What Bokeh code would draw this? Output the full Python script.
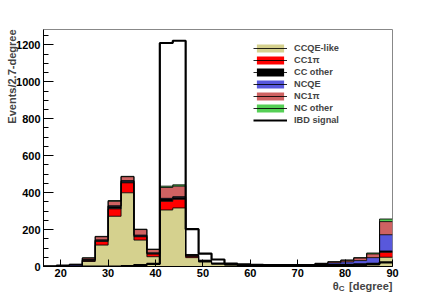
import numpy as np
from bokeh.plotting import figure
from bokeh.models import Range1d, Legend, LegendItem, Label, FixedTicker
from bokeh.embed import file_html
from bokeh.resources import INLINE

# ---- data ----
bin_edges = [16.36, 19.09, 21.82, 24.55, 27.27, 30.00, 32.73, 35.45, 38.18, 40.91,
             43.64, 46.36, 49.09, 51.82, 54.55, 57.27, 60.00, 62.73, 65.45, 68.18,
             70.91, 73.64, 76.36, 79.09, 81.82, 84.55, 87.27, 90.00]

ccqe_like = [0, 0, 1, 27, 116, 272, 399, 143, 53, 306, 317, 48, 24, 13, 8, 5, 4, 3, 2, 2, 2, 2, 3, 4, 5, 8, 50]
cc1pi     = [0, 0, 0, 5, 20, 40, 54, 18, 14, 47, 47, 7, 3, 1, 1, 1, 0, 0, 0, 0, 1, 1, 1, 2, 3, 5, 27]
cc_other  = [0, 0, 0, 4, 6, 14, 9, 6, 5, 13, 11, 3, 2, 1, 1, 0, 0, 0, 0, 0, 0, 1, 1, 1, 2, 3, 7]
ncqe      = [2, 6, 9, 2, 2, 3, 3, 3, 2, 3, 3, 1, 1, 1, 1, 1, 1, 1, 2, 3, 5, 10, 14, 18, 22, 32, 88]
nc1pi     = [0, 1, 2, 8, 17, 24, 21, 30, 18, 59, 57, 5, 3, 2, 1, 1, 1, 1, 1, 1, 2, 3, 6, 9, 14, 20, 71]
nc_other  = [0, 0, 0, 1, 2, 4, 2, 2, 2, 7, 7, 1, 1, 0, 0, 0, 0, 0, 0, 0, 0, 0, 1, 1, 2, 5, 14]
ibd_signal = [0, 0, 0, 0, 0, 0, 2, 8, 14, 1210, 1222, 202, 70, 38, 16, 12, 9, 8, 7, 7, 7, 7, 8, 9, 11, 14, 22]

layer_names = ["CCQE-like", "CC1\u03c0", "CC other", "NCQE", "NC1\u03c0", "NC other"]
layer_values = [ccqe_like, cc1pi, cc_other, ncqe, nc1pi, nc_other]
layer_colors = ["#d5d18e", "#ff0000", "#000000", "#5858dc", "#cf6262", "#55cf55"]

y_ticks = [0, 200, 400, 600, 800, 1000, 1200]
x_ticks = [20, 30, 40, 50, 60, 70, 80, 90]

FONT = "Liberation Sans"

p = figure(width=430, height=295, output_backend="svg", toolbar_location=None,
           x_range=Range1d(16.3636, 90.0), y_range=Range1d(0, 1283),
           min_border_left=43, min_border_right=38, min_border_top=29, min_border_bottom=29)
p.xgrid.visible = False
p.ygrid.visible = False
p.outline_line_color = "#888888"
p.outline_line_width = 1
p.background_fill_color = "white"
p.border_fill_color = "white"

edges = np.array(bin_edges)
cum = np.zeros(len(ccqe_like))
items = []
for name, vals, col in zip(layer_names, layer_values, layer_colors):
    lower = cum.copy()
    cum = cum + np.array(vals, dtype=float)
    lo_ext = np.append(lower, lower[-1])
    up_ext = np.append(cum, cum[-1])
    ar = p.varea_step(x=edges, y1=lo_ext, y2=up_ext, step_mode="after", fill_color=col)
    items.append((name, ar, up_ext))

line_rs = []
for name, ar, up_ext in items:
    lr = p.step(x=edges, y=up_ext, mode="after", line_color="black", line_width=1, line_alpha=0.85)
    line_rs.append(lr)

ibd_ext = np.append(np.array(ibd_signal, dtype=float), ibd_signal[-1])
ibd_r = p.step(x=edges, y=ibd_ext, mode="after", line_color="black", line_width=2.2)

legend_items = [LegendItem(label=name, renderers=[ar, lr]) for (name, ar, _), lr in zip(items, line_rs)]
legend_items.append(LegendItem(label="IBD signal", renderers=[ibd_r]))
legend = Legend(items=legend_items, location=(210, 141), padding=0, margin=0, spacing=2,
                glyph_width=34, glyph_height=10, label_height=9, label_standoff=7,
                label_text_font=FONT, label_text_font_style="bold", label_text_font_size="9.2px",
                background_fill_alpha=0, border_line_alpha=0)
p.add_layout(legend, "center")

# axes
p.xaxis.ticker = FixedTicker(ticks=x_ticks)
p.yaxis.ticker = FixedTicker(ticks=y_ticks, minor_ticks=list(range(0, 1300, 50)))
for ax in (p.xaxis[0], p.yaxis[0]):
    ax.major_tick_out = 0
    ax.minor_tick_out = 0
    ax.axis_line_color = "black"
    ax.major_tick_line_color = "black"
    ax.major_label_text_font = FONT
    ax.major_label_text_font_style = "bold"
    ax.major_label_text_font_size = "11px"
    ax.major_label_text_color = "black"
p.xaxis.major_tick_in = 7
p.xaxis.minor_tick_line_color = None
p.xaxis.major_label_standoff = 2
p.yaxis.major_tick_in = 10
p.yaxis.minor_tick_in = 5
p.yaxis.minor_tick_line_color = "black"
p.yaxis.major_label_standoff = 3

# axis titles (placed in side panels, which have spare room, so they are not clipped by the frame)
p.add_layout(Label(x=8.35, y=1283, text="Events/2.7-degree", angle=np.pi/2,
                   text_align="right", text_baseline="top", text_font=FONT,
                   text_font_style="bold", text_font_size="11px"), "left")
p.add_layout(Label(x=90.0, y=-106, text="[degree]", text_align="right", text_baseline="alphabetic",
                   text_font=FONT, text_font_style="bold", text_font_size="11px"), "above")
p.add_layout(Label(x=79.87, y=-121, text="C", text_align="right", text_baseline="alphabetic",
                   text_font=FONT, text_font_style="bold", text_font_size="8px"), "right")
p.add_layout(Label(x=78.67, y=-106, text="\u03b8", text_align="right", text_baseline="alphabetic",
                   text_font=FONT, text_font_style="bold", text_font_size="11px"), "right")

open("out.html", "w").write(file_html(p, INLINE))
